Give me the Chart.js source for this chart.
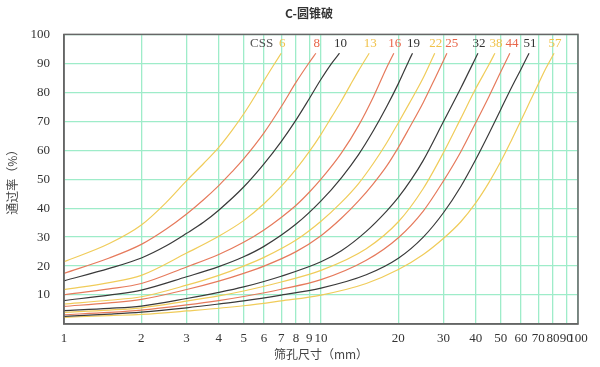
<!DOCTYPE html>
<html>
<head>
<meta charset="utf-8">
<script src="https://cdn.jsdelivr.net/npm/chart.js@4.4.0/dist/chart.umd.min.js"></script>
<style>
  html, body { margin: 0; padding: 0; background: #fff; }
  #wrap { width: 600px; height: 367px; }
</style>
</head>
<body>
<div id="wrap"><canvas id="chart"></canvas></div>
<script>
// CSS setting (mm) of each curve
const cssLabels = ['6', '8', '10', '13', '16', '19', '22', '25', '32', '38', '44', '51', '57'];

// [sieve size mm, passing %]
const css6  = [[1, 21.5], [1.5, 27.8], [2, 34.2], [2.5, 42], [3, 49.5], [3.5, 55.5], [4, 61], [4.5, 66.8], [5, 72.5], [5.5, 78.3], [6, 84], [6.5, 89], [7, 93.5]];
const css8  = [[1, 17.5], [1.5, 22.8], [2, 27.5], [2.5, 32.8], [3, 38], [3.5, 43], [4, 47.8], [4.5, 52.5], [5, 57], [6, 66], [7, 75], [8, 83.5], [9, 90.3], [9.55, 93.5]];
const css10 = [[1, 14.9], [1.5, 19.2], [2, 22.8], [2.5, 27], [3, 31.3], [3.5, 35.2], [4, 39.3], [5, 47.3], [6, 55.3], [7, 63], [8, 70.5], [9, 77.8], [10, 84.5], [11, 90], [11.8, 93.5]];
const css13 = [[1, 11.9], [1.5, 14.3], [2, 16.8], [3, 24.5], [4, 30.3], [5, 35.7], [6, 41.5], [7, 47.5], [8, 53.5], [9, 59.5], [10, 65.5], [11, 71.5], [12, 77], [13, 82.5], [14, 87.5], [15.4, 93.5]];
const css16 = [[1, 10.1], [1.5, 12.1], [2, 14], [3, 19.7], [4, 24], [5, 28.2], [6, 32.5], [7, 36.8], [8, 41], [9, 45.5], [10, 50], [12, 59], [14, 68.5], [16, 78.5], [18, 88.5], [19.2, 93.5]];
const css19 = [[1, 8.1], [1.5, 10], [2, 11.7], [3, 16.3], [4, 19.8], [5, 23.2], [6, 26.8], [8, 34.5], [10, 42.5], [12, 50.5], [14, 58.5], [16, 66.8], [18, 75], [20, 83], [22, 91], [22.7, 93.5]];
const css22 = [[1, 6.9], [1.5, 8.2], [2, 9.4], [3, 13.4], [4, 16.8], [5, 20], [6, 23], [8, 29], [10, 35.5], [12, 42], [14, 48.5], [16, 55.5], [18, 62.5], [20, 69.5], [22, 76], [25, 85], [27.7, 93.5]];
const css25 = [[1, 6.1], [1.5, 7.3], [2, 8.5], [3, 11.9], [4, 14.8], [5, 17.5], [6, 20], [8, 25], [10, 30.5], [12, 36.5], [14, 42.5], [16, 48.5], [18, 54.5], [20, 61], [22, 67.5], [25, 76.5], [28, 85.5], [30.9, 93.5]];
const css32 = [[1, 4.6], [1.5, 5.4], [2, 6.2], [3, 8.8], [4, 10.9], [5, 12.8], [7, 16.5], [10, 21.5], [12, 25.3], [15, 32], [18, 39], [20, 43.7], [22.5, 50], [25, 56.5], [30, 70], [35, 81.5], [40.8, 93.5]];
const css38 = [[1, 4], [1.5, 4.8], [2, 5.6], [3, 7.9], [4, 9.7], [5, 11.4], [7, 14.5], [10, 18.5], [15, 26], [20, 35.3], [25, 46.8], [30, 59.3], [35, 71], [40, 81.3], [45, 89.5], [47.5, 93.5]];
const css44 = [[1, 3.2], [1.5, 4], [2, 4.8], [3, 6.6], [4, 8.1], [5, 9.5], [7, 12], [10, 15.3], [15, 22], [20, 29.8], [25, 39], [30, 49.5], [35, 59.5], [40, 69.5], [45, 78.5], [50, 87], [54.3, 93.5]];
const css51 = [[1, 2.6], [1.5, 3.4], [2, 4.1], [3, 5.6], [4, 6.9], [5, 8], [7, 10], [10, 12.4], [15, 17], [20, 22.7], [25, 30], [30, 38.5], [35, 47.5], [40, 56.8], [45, 65.7], [50, 74], [55, 81.5], [60, 88], [64.5, 93.5]];
const css57 = [[1, 2.3], [1.5, 2.9], [2, 3.3], [3, 4.5], [5, 6.3], [7, 8], [10, 10], [15, 14], [20, 18.8], [25, 24], [30, 29.6], [35, 35.3], [40, 41.8], [45, 48.8], [50, 56], [55, 63.3], [60, 70.3], [65, 76.8], [70, 82.8], [75, 88.3], [80.7, 93.5]];

const curves = [css6, css8, css10, css13, css16, css19, css22, css25, css32, css38, css44, css51, css57];

const xTicks = [1, 2, 3, 4, 5, 6, 7, 8, 9, 10, 20, 30, 40, 50, 60, 70, 80, 90, 100];
const yTicks = [0, 10, 20, 30, 40, 50, 60, 70, 80, 90, 100];
const labelLevel = 97;   // height (%) where the CSS numbers sit

const yellow = '#f0cc5a';
const orange = '#e67a5c';
const black = '#3a3a3a';
const lineColors = [yellow, orange, black];
const labelColors = ['#f0c24a', '#e8664a', '#333333'];
const gridColor = '#9eecc9';
const serif = '"Liberation Serif", "DejaVu Serif", serif';
const cjk = '"Noto Sans CJK SC", "Noto Sans", sans-serif';

const datasets = curves.map((pts, i) => ({
    label: cssLabels[i],
    data: pts.map(p => ({ x: p[0], y: p[1] })),
    borderColor: lineColors[i % 3],
    borderWidth: 1.2,
    pointRadius: 0,
    fill: false,
    yAxisID: 'y',
    cubicInterpolationMode: 'monotone'
}));

// numbers over the curve ends, "CSS" tag and the frame
const curveLabels = {
    id: 'curveLabels',
    afterDatasetsDraw(chart) {
        const { ctx, chartArea: a } = chart;
        const x = chart.scales.x, y = chart.scales.y;
        const ly = y.getPixelForValue(labelLevel);
        ctx.save();
        ctx.font = '13px ' + serif;
        ctx.textBaseline = 'middle';
        ctx.textAlign = 'center';
        let firstX = null, prev = -100;
        chart.data.datasets.forEach((ds, i) => {
            const last = ds.data[ds.data.length - 1];
            let px = x.getPixelForValue(last.x) + 1;
            if (px - prev < 16) px = prev + 16;   // keep neighbours apart
            prev = px;
            if (firstX === null) firstX = px;
            ctx.fillStyle = labelColors[i % 3];
            ctx.fillText(ds.label, px, ly);
        });
        ctx.textAlign = 'right';
        ctx.fillStyle = '#555';
        ctx.fillText('CSS', firstX - 9, ly);

        ctx.strokeStyle = '#666';
        ctx.lineWidth = 1.5;
        ctx.strokeRect(a.left, a.top, a.right - a.left, a.bottom - a.top);
        ctx.restore();
    }
};

new Chart(document.getElementById('chart'), {
    type: 'line',
    data: { datasets: datasets },
    options: {
        responsive: true,
        maintainAspectRatio: false,
        animation: false,
        devicePixelRatio: 1,
        layout: { padding: { left: 18, right: 0, top: 0, bottom: 0 } },
        plugins: {
            legend: { display: false },
            tooltip: { enabled: false },
            title: {
                display: true,
                text: 'C-圆锥破',
                color: '#333',
                font: { family: cjk, size: 12, weight: 'bold' },
                padding: { top: 6, bottom: 14 }
            }
        },
        scales: {
            x: {
                type: 'logarithmic',
                min: 1,
                max: 100,
                afterBuildTicks: s => { s.ticks = xTicks.map(v => ({ value: v })); },
                afterFit: s => { s.height = 43; },
                ticks: {
                    autoSkip: false,
                    maxRotation: 0,
                    padding: 7,
                    color: '#333',
                    font: { family: serif, size: 13 },
                    callback: v => String(v)
                },
                grid: { color: gridColor, lineWidth: 1.3, drawTicks: false },
                border: { display: true, color: '#666', width: 1.5 },
                title: {
                    display: true,
                    text: '筛孔尺寸（mm）',
                    color: '#444',
                    font: { family: cjk, size: 12 },
                    padding: { top: 0, bottom: 5 }
                }
            },
            y: {
                position: 'left',
                min: 0,
                max: 100,
                afterBuildTicks: s => { s.ticks = yTicks.map(v => ({ value: v })); },
                afterFit: s => { s.width = 46; },
                ticks: {
                    padding: 14,
                    color: '#333',
                    font: { family: serif, size: 13 },
                    callback: v => (v === 0 ? '' : String(v))
                },
                grid: { color: gridColor, lineWidth: 1.3, drawTicks: false },
                border: { display: true, color: '#666', width: 1.5 },
                title: {
                    display: true,
                    text: '通过率（%）',
                    color: '#444',
                    font: { family: cjk, size: 12 },
                    padding: { top: -13, bottom: 0 }
                }
            },
            // empty strip on the right so the plot ends where the picture's does
            yRight: {
                position: 'right',
                min: 0,
                max: 100,
                afterFit: s => { s.width = 22; },
                ticks: { display: false },
                grid: { display: false },
                border: { display: false }
            }
        }
    },
    plugins: [curveLabels]
});
</script>
</body>
</html>
